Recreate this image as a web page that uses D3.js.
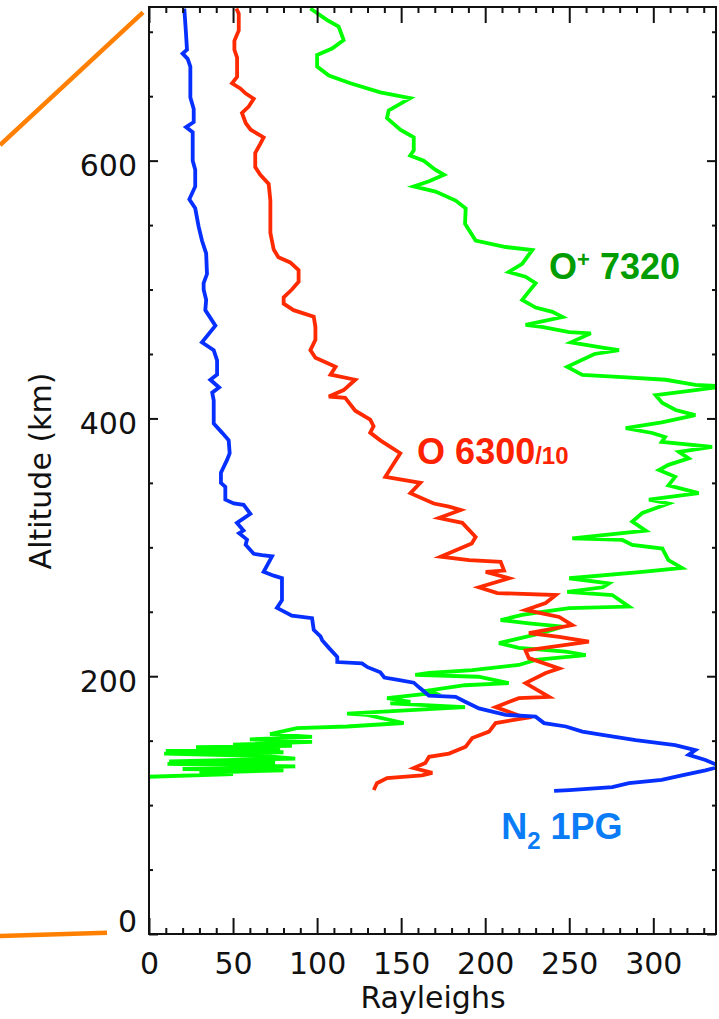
<!DOCTYPE html>
<html>
<head>
<meta charset="utf-8">
<script src="https://cdn.jsdelivr.net/npm/d3@7"></script>
<style>
  body { margin: 0; background: #fff; }
  svg { display: block; }
  .tick text { font-family: "DejaVu Sans", sans-serif; font-size: 30px; fill: #111; }
  .tick line { stroke: #111; stroke-width: 2; }
  .axis-title { font-family: "DejaVu Sans", sans-serif; font-size: 30px; fill: #111; }
  .label { font-family: "Liberation Sans", Arial, sans-serif; font-weight: bold; font-size: 36px; }
</style>
</head>
<body>
<div id="chart"></div>
<script>
// Emission profiles as [altitude (km), brightness (Rayleighs)], top to bottom
const n2Profile = [
  [718, 21], [699, 22], [686, 22.6], [683, 20], [679, 23], [673, 24.6], [649, 24.6],
  [640, 26.6], [630, 26.6], [626, 22], [622, 26], [600, 26], [593, 27.5], [580, 27.5],
  [570, 24], [563, 27.5], [549, 29.5], [538, 31.5], [528, 34], [512, 34.5], [505, 32.5],
  [500, 32.5], [492, 34], [484, 33.5], [472, 39.5], [459, 31.5], [453, 38.5], [445, 40.5],
  [434, 40.5], [430, 36.5], [424, 41.7], [420, 37.6], [414, 38.5], [396, 38.5], [389, 43.4],
  [383, 47.4], [373, 48], [368, 46.5], [358, 42.8], [350, 42.8], [347, 45.4], [337, 45.4],
  [334, 50.4], [333, 56.3], [326, 60.3], [319, 52.3], [313, 56.2], [311, 53.6], [306, 58.3],
  [302, 57.5], [295, 62.3], [294, 67.2], [293, 73.2], [281, 68.2], [278, 74.2], [276, 79.1],
  [259, 79.1], [253, 76.1], [247, 85], [245, 97], [236, 98], [231, 102], [228, 103],
  [222, 107], [215, 112], [211, 112], [210, 126.7], [207, 130], [203, 137.6], [199, 140],
  [197, 149], [195, 157.5], [191, 161], [185, 166.5], [184, 182.4], [180, 188.4],
  [175, 196.3], [170, 212.2], [168.6, 230], [163.6, 235], [161, 248], [157, 257.8],
  [154.4, 269.7], [150.5, 289.5], [146.6, 313], [142.7, 325], [139, 321], [135, 331],
  [130, 340], [127, 331], [123, 317], [119.5, 305], [117, 285.5], [114, 275.6],
  [111.7, 250], [111, 241]
];

const o6300Profile = [
  [718, 52], [714, 53.4], [701, 53.4], [693, 50.8], [686, 50.8], [680, 52.4], [665, 52.4],
  [660, 49.4], [656, 54.3], [652, 57.6], [648, 62.3], [642, 59.3], [637, 55.3], [629, 57.6],
  [624, 60.5], [618, 68.2], [613, 66.2], [606, 63.2], [595, 63.2], [589, 66.2], [582, 71.2],
  [569, 72.2], [544, 72.2], [531, 74.2], [525, 77], [521, 84], [515, 89], [506, 89],
  [500, 85], [494, 80.1], [489, 80.1], [484, 86], [479, 98], [471, 99], [461, 99],
  [453, 96], [447, 99], [443, 106], [440, 111], [434, 108], [430, 122.7], [422, 115.8],
  [417, 107], [416, 116.7], [406, 122.7], [399, 131.6], [394, 133.6], [389, 131.6],
  [383, 137.6], [378, 143.6], [373, 149.5], [365, 145.6], [354.7, 140.6], [350, 161.4],
  [342, 155.5], [334, 169.4], [331.5, 178.5], [329, 185.4], [322.7, 172.5], [319, 186.4],
  [308, 194.3], [303, 192], [292.7, 173.5], [290, 190.4], [288.8, 209.2], [282, 211.2],
  [281, 200.3], [276, 214.2], [269, 196.3], [264.5, 207.2], [263, 242], [256.8, 236],
  [251.4, 224], [246, 244], [239.7, 251.8], [233.5, 226], [230.6, 244], [226.8, 261.7],
  [224, 245.9], [220, 224], [214, 226], [206, 244], [202.5, 236], [194.7, 224], [184, 238],
  [183, 220], [176, 206.2], [167.6, 224], [163.7, 206.2], [157, 202.3], [152, 192.3],
  [145.3, 188.4], [140, 178.5], [137.5, 166.6], [132.7, 164.4], [128.8, 157.5],
  [125, 168.5], [123, 162.4], [121, 141.6], [117, 135.6], [111.7, 133.7]
];

const o7320Profile = [
  [718, 96], [709, 106], [704, 112.8], [693.5, 115.8], [687, 108.9], [682, 100], [673, 100],
  [666, 107], [660, 119.8], [653, 137.6], [648.5, 155.4], [639, 142.6], [633, 141.6],
  [624, 149.5], [618, 157.5], [608, 157.5], [604, 155.4], [600, 163.4], [593, 170.3],
  [589, 175.5], [584, 166.6], [580, 157.5], [576, 170.5], [569, 182.4], [563, 188.4],
  [551, 188], [538, 194.3], [533, 212.2], [530.6, 228], [520, 222], [513.6, 214],
  [510, 224], [505, 230], [492, 222], [486, 230], [482.7, 240], [478.7, 246], [472.5, 224],
  [471, 233.6], [467, 250], [466, 262.8], [459, 251], [455, 269.7], [453, 279.6], [450, 265],
  [440, 248.8], [433.7, 257.8], [432, 281.6], [430, 307.4], [426, 325], [425, 342],
  [422, 325], [418, 301.4], [412, 305.4], [406.5, 313.3], [402.6, 325], [397, 305],
  [392.5, 283.6], [388.7, 299.4], [385.6, 307], [381.7, 305], [378, 335], [374, 315.3],
  [369, 321], [364, 309], [360, 303.4], [354.7, 313], [348, 309], [342, 327], [337, 297.4],
  [334, 309], [326.6, 293.5], [320, 287.5], [313, 295.5], [307, 251.8], [305.7, 281.6],
  [301.8, 287.5], [299, 305.4], [290, 309], [284, 317], [281, 293.5], [276, 250],
  [272, 273.6], [269, 270], [265.5, 248.8], [263, 275.6], [254, 285.5], [252.9, 250],
  [250, 234], [247.5, 222], [243.6, 209.2], [241, 226], [238.4, 246], [233.5, 234],
  [225.7, 208.2], [222, 220], [219, 248], [216.4, 259.8], [212.6, 230], [208.7, 220],
  [204.8, 192.3], [202.5, 166.6], [201, 158.4], [199.6, 196], [194.7, 214], [193, 188],
  [189, 166.6], [187, 170], [183, 141.6], [180, 155.5], [179, 143.6], [176, 188],
  [171, 117.8], [170, 129.7], [163.7, 151.5], [161, 117.8], [159.8, 88], [155, 72],
  [153, 97], [151, 60], [149, 97], [147, 50], [146, 85], [145, 28], [143, 78], [142, 10],
  [141, 80], [140, 9], [138, 70], [136, 87], [134, 12], [133, 75], [132, 11], [130, 87],
  [128, 20], [127, 80], [125, 30], [124, 50], [122, 0]
];

// Axis ticks
const xMajorTicks = [0, 50, 100, 150, 200, 250, 300];
const xMinorTicks = [10, 20, 30, 40, 60, 70, 80, 90, 110, 120, 130, 140, 160, 170, 180, 190,
  210, 220, 230, 240, 260, 270, 280, 290, 310, 320, 330];
const yMajorTicks = [0, 200, 400, 600];
const yMinorTicks = [50, 100, 150, 250, 300, 350, 450, 500, 550, 650, 700];

// Series drawn in this order (last on top)
const series = [
  { name: "O+ 7320", data: o7320Profile, color: "#00ff00" },
  { name: "O 6300/10", data: o6300Profile, color: "#ff2a00" },
  { name: "N2 1PG", data: n2Profile, color: "#0530ff" },
];

function drawChart() {
  const margin = { top: 7, right: 3, bottom: 85, left: 149 };
  const width = 719 - margin.left - margin.right;
  const height = 1019 - margin.top - margin.bottom;

  const svg = d3
    .select("#chart")
    .append("svg")
    .attr("width", 719)
    .attr("height", 1019);

  const x = d3.scaleLinear().domain([0, 337.3]).range([0, width]);
  const y = d3.scaleLinear().domain([0, 719.2]).range([height, 0]);

  // zoom connector lines coming from the left panel
  svg
    .append("line")
    .attr("x1", 0)
    .attr("y1", 145)
    .attr("x2", margin.left - 6)
    .attr("y2", margin.top + y(715))
    .attr("stroke", "#ff8000")
    .attr("stroke-width", 4.5);
  svg
    .append("line")
    .attr("x1", 0)
    .attr("y1", 936)
    .attr("x2", margin.left - 42)
    .attr("y2", margin.top + y(1))
    .attr("stroke", "#ff8000")
    .attr("stroke-width", 4.5);

  const g = svg
    .append("g")
    .attr("transform", `translate(${margin.left},${margin.top})`);

  g.append("clipPath")
    .attr("id", "plot-clip")
    .append("rect")
    .attr("width", width)
    .attr("height", height);

  const line = d3
    .line()
    .x((d) => x(d[1]))
    .y((d) => y(d[0]));

  g.append("g")
    .attr("clip-path", "url(#plot-clip)")
    .selectAll("path")
    .data(series)
    .enter()
    .append("path")
    .attr("d", (d) => line(d.data))
    .attr("fill", "none")
    .attr("stroke", (d) => d.color)
    .attr("stroke-width", 3.8)
    .attr("stroke-linejoin", "miter");

  const noLabel = () => "";

  // bottom axis
  g.append("g")
    .attr("transform", `translate(0,${height})`)
    .call(d3.axisBottom(x).tickValues(xMajorTicks).tickSizeInner(-16).tickSizeOuter(0).tickPadding(19))
    .call((a) => a.select(".domain").remove());
  g.append("g")
    .attr("transform", `translate(0,${height})`)
    .call(d3.axisBottom(x).tickValues(xMinorTicks).tickSizeInner(-6).tickSizeOuter(0).tickFormat(noLabel))
    .call((a) => a.select(".domain").remove());

  // top axis (mirror)
  g.append("g")
    .call(d3.axisTop(x).tickValues(xMajorTicks).tickSizeInner(-16).tickSizeOuter(0).tickFormat(noLabel))
    .call((a) => a.select(".domain").remove());
  g.append("g")
    .call(d3.axisTop(x).tickValues(xMinorTicks).tickSizeInner(-6).tickSizeOuter(0).tickFormat(noLabel))
    .call((a) => a.select(".domain").remove());

  // left axis
  const yAxis = g
    .append("g")
    .call(d3.axisLeft(y).tickValues(yMajorTicks).tickSizeInner(-9).tickSizeOuter(0).tickPadding(12))
    .call((a) => a.select(".domain").remove());
  yAxis.selectAll(".tick text").attr("dy", (d) => (d === 0 ? "-0.1em" : "0.5em"));
  g.append("g")
    .call(d3.axisLeft(y).tickValues(yMinorTicks).tickSizeInner(-4).tickSizeOuter(0).tickFormat(noLabel))
    .call((a) => a.select(".domain").remove());

  // right axis (mirror)
  g.append("g")
    .attr("transform", `translate(${width},0)`)
    .call(d3.axisRight(y).tickValues(yMajorTicks).tickSizeInner(-9).tickSizeOuter(0).tickFormat(noLabel))
    .call((a) => a.select(".domain").remove());
  g.append("g")
    .attr("transform", `translate(${width},0)`)
    .call(d3.axisRight(y).tickValues(yMinorTicks).tickSizeInner(-4).tickSizeOuter(0).tickFormat(noLabel))
    .call((a) => a.select(".domain").remove());

  // frame
  g.append("rect")
    .attr("width", width)
    .attr("height", height)
    .attr("fill", "none")
    .attr("stroke", "#111")
    .attr("stroke-width", 2);

  // axis titles
  svg
    .append("text")
    .attr("class", "axis-title")
    .attr("transform", "translate(51,471) rotate(-90)")
    .attr("text-anchor", "middle")
    .text("Altitude (km)");
  svg
    .append("text")
    .attr("class", "axis-title")
    .attr("x", 433)
    .attr("y", 1008)
    .attr("text-anchor", "middle")
    .text("Rayleighs");

  // curve labels
  const o7320Label = g
    .append("text")
    .attr("class", "label")
    .attr("x", x(238))
    .attr("y", y(508))
    .attr("fill", "#009c00");
  o7320Label.append("tspan").text("O");
  o7320Label.append("tspan").attr("font-size", "22px").attr("dy", -12).text("+");
  o7320Label.append("tspan").attr("dy", 12).text(" 7320");

  const o6300Label = g
    .append("text")
    .attr("class", "label")
    .attr("x", x(159.5))
    .attr("y", y(365))
    .attr("fill", "#ff2200");
  o6300Label.append("tspan").text("O 6300");
  o6300Label.append("tspan").attr("font-size", "24px").text("/10");

  const n2Label = g
    .append("text")
    .attr("class", "label")
    .attr("x", x(209.5))
    .attr("y", y(73.5))
    .attr("fill", "#0a7cf5");
  n2Label.append("tspan").text("N");
  n2Label.append("tspan").attr("font-size", "24px").attr("dy", 10).text("2");
  n2Label.append("tspan").attr("dy", -10).text(" 1PG");
}

drawChart();
</script>
</body>
</html>
